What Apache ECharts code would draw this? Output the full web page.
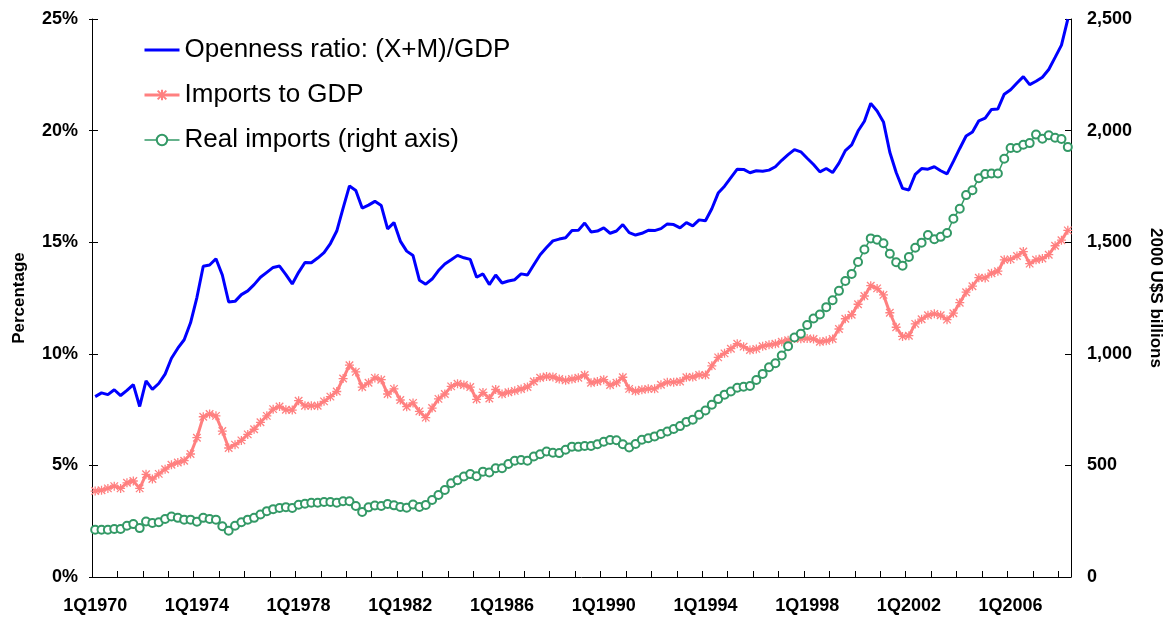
<!DOCTYPE html>
<html>
<head>
<meta charset="utf-8">
<script src="https://cdn.jsdelivr.net/npm/echarts@6/dist/echarts.min.js"></script>
<style>
  html, body { margin: 0; padding: 0; background: #fff; }
  #chart { width: 1172px; height: 622px; }
</style>
</head>
<body>
<div id="chart"></div>
<script>
// quarters 1Q1970 .. 2Q2008
var quarters = [];
for (var y = 1970; y <= 2008; y++) {
  for (var q = 1; q <= 4; q++) {
    if (quarters.length < 154) quarters.push(q + 'Q' + y);
  }
}

// (X+M)/GDP, percent
var opennessRatio = [
  8.08, 8.25, 8.17, 8.39, 8.13, 8.36, 8.62, 7.64, 8.79, 8.41, 8.67, 9.09, 9.80, 10.25, 10.63, 11.39,
  12.52, 13.92, 13.98, 14.26, 13.53, 12.32, 12.35, 12.65, 12.82, 13.10, 13.43, 13.65, 13.87, 13.93, 13.55, 13.13,
  13.65, 14.09, 14.08, 14.29, 14.53, 14.94, 15.50, 16.53, 17.52, 17.32, 16.53, 16.66, 16.83, 16.64, 15.60, 15.88,
  15.05, 14.60, 14.40, 13.30, 13.12, 13.35, 13.73, 14.02, 14.21, 14.41, 14.30, 14.23, 13.43, 13.58, 13.10, 13.53,
  13.17, 13.26, 13.32, 13.58, 13.53, 13.99, 14.44, 14.76, 15.06, 15.14, 15.20, 15.52, 15.53, 15.86, 15.46, 15.50,
  15.64, 15.40, 15.50, 15.79, 15.43, 15.32, 15.40, 15.53, 15.52, 15.61, 15.82, 15.79, 15.64, 15.88, 15.73, 16.00,
  15.96, 16.50, 17.20, 17.51, 17.89, 18.27, 18.26, 18.11, 18.20, 18.18, 18.23, 18.38, 18.67, 18.92, 19.15, 19.05,
  18.76, 18.48, 18.15, 18.30, 18.12, 18.54, 19.10, 19.36, 19.98, 20.42, 21.22, 20.88, 20.39, 19.03, 18.12, 17.41,
  17.34, 18.04, 18.30, 18.27, 18.38, 18.20, 18.06, 18.62, 19.20, 19.76, 19.94, 20.44, 20.56, 20.95, 20.97, 21.63,
  21.83, 22.13, 22.42, 22.06, 22.21, 22.39, 22.74, 23.28, 23.83, 24.99
];

// imports / GDP, percent
var importsToGdp = [
  3.85, 3.89, 3.97, 4.07, 3.97, 4.22, 4.30, 3.97, 4.60, 4.39, 4.62, 4.83, 5.03, 5.13, 5.21, 5.51,
  6.24, 7.18, 7.30, 7.22, 6.54, 5.78, 5.93, 6.12, 6.39, 6.62, 6.93, 7.22, 7.52, 7.64, 7.49, 7.48,
  7.90, 7.67, 7.67, 7.67, 7.87, 8.08, 8.31, 8.89, 9.49, 9.19, 8.51, 8.70, 8.92, 8.84, 8.20, 8.43,
  7.93, 7.63, 7.80, 7.42, 7.14, 7.57, 7.98, 8.20, 8.54, 8.66, 8.60, 8.51, 7.96, 8.27, 8.00, 8.40,
  8.20, 8.28, 8.34, 8.42, 8.51, 8.76, 8.93, 8.98, 8.96, 8.87, 8.81, 8.87, 8.93, 9.05, 8.70, 8.76,
  8.84, 8.60, 8.70, 8.95, 8.43, 8.33, 8.39, 8.43, 8.43, 8.61, 8.72, 8.73, 8.76, 8.95, 8.96, 9.05,
  9.05, 9.46, 9.84, 10.02, 10.23, 10.45, 10.32, 10.17, 10.22, 10.34, 10.40, 10.45, 10.54, 10.61, 10.69, 10.67,
  10.69, 10.66, 10.54, 10.58, 10.66, 11.11, 11.57, 11.75, 12.22, 12.59, 13.05, 12.93, 12.64, 11.84, 11.19, 10.78,
  10.81, 11.34, 11.55, 11.73, 11.79, 11.73, 11.53, 11.82, 12.29, 12.76, 13.03, 13.41, 13.40, 13.61, 13.70, 14.21,
  14.23, 14.38, 14.58, 14.04, 14.21, 14.27, 14.44, 14.84, 15.09, 15.53
];

// real imports, 2000 US$ billions (right axis)
var realImports = [
  212, 212, 212, 215, 215, 230, 237, 219, 249, 242, 245, 260, 271, 265, 257, 257,
  248, 265, 260, 257, 227, 207, 230, 245, 257, 265, 280, 295, 304, 309, 313, 309,
  324, 328, 333, 333, 336, 336, 333, 339, 339, 318, 291, 312, 320, 318, 327, 321,
  314, 310, 325, 314, 323, 345, 367, 390, 420, 434, 450, 461, 451, 472, 468, 487,
  487, 506, 521, 524, 521, 540, 550, 562, 557, 555, 570, 584, 583, 587, 587, 595,
  606, 614, 613, 595, 580, 596, 615, 622, 630, 641, 652, 663, 676, 695, 705, 727,
  746, 772, 797, 817, 831, 848, 852, 856, 883, 910, 940, 958, 992, 1034, 1073, 1090,
  1129, 1158, 1176, 1209, 1240, 1282, 1326, 1358, 1411, 1467, 1517, 1511, 1495, 1448, 1410, 1395,
  1434, 1475, 1498, 1532, 1513, 1524, 1541, 1605, 1650, 1711, 1733, 1787, 1805, 1808, 1808, 1874,
  1922, 1922, 1937, 1944, 1982, 1964, 1979, 1968, 1962, 1926
];

var seriesNames = ['Openness ratio: (X+M)/GDP', 'Imports to GDP', 'Real imports (right axis)'];

var font = "'Liberation Sans', Arial, sans-serif";
var asterisk = 'path://M0,0L10,10M10,0L0,10M5,-1L5,11M-1,5L11,5';

var chart = echarts.init(document.getElementById('chart'));
chart.setOption({
  animation: false,
  backgroundColor: '#fff',
  textStyle: { fontFamily: font },
  grid: { left: 92, right: 100, top: 19, bottom: 45 },
  legend: {
    orient: 'vertical',
    left: 143,
    top: 37,
    padding: 0,
    itemWidth: 35,
    itemHeight: 13,
    itemGap: 19,
    data: [
      { name: seriesNames[0], itemStyle: { opacity: 0 }, lineStyle: { width: 3 } },
      { name: seriesNames[1], lineStyle: { width: 3 } },
      { name: seriesNames[2], lineStyle: { width: 1.5 } }
    ],
    textStyle: { fontSize: 26, color: '#000', fontFamily: font, lineHeight: 26 }
  },
  xAxis: {
    type: 'category',
    data: quarters,
    boundaryGap: true,
    axisLine: { lineStyle: { color: '#000', width: 1 } },
    axisTick: { show: true, inside: true, length: 6, interval: 3, lineStyle: { color: '#000' } },
    axisLabel: { interval: 15, fontSize: 18, fontWeight: 'bold', color: '#000', margin: 20, fontFamily: font },
    splitLine: { show: false }
  },
  yAxis: [
    {
      type: 'value',
      min: 0, max: 25, interval: 5,
      position: 'left',
      name: 'Percentage',
      nameLocation: 'middle',
      nameGap: 64,
      nameTextStyle: { fontSize: 17, fontWeight: 'bold', color: '#000', fontFamily: font },
      axisLine: { show: true, lineStyle: { color: '#000', width: 1 } },
      axisTick: { show: true, inside: true, length: 6, lineStyle: { color: '#000' } },
      axisLabel: { formatter: '{value}%', fontSize: 18, fontWeight: 'bold', color: '#000', margin: 14, fontFamily: font },
      splitLine: { show: false }
    },
    {
      type: 'value',
      min: 0, max: 2500, interval: 500,
      position: 'right',
      name: '2000 U$S billions',
      nameLocation: 'middle',
      nameRotate: -90,
      nameGap: 76,
      nameTextStyle: { fontSize: 17, fontWeight: 'bold', color: '#000', fontFamily: font },
      axisLine: { show: true, lineStyle: { color: '#000', width: 1 } },
      axisTick: { show: true, inside: true, length: 6, lineStyle: { color: '#000' } },
      axisLabel: {
        formatter: function (v) { return v.toLocaleString('en-US'); },
        fontSize: 18, fontWeight: 'bold', color: '#000', margin: 16, fontFamily: font
      },
      splitLine: { show: false }
    },
    {
      // short outer ticks of the left axis
      type: 'value',
      min: 0, max: 25, interval: 5,
      position: 'left',
      axisLine: { show: false },
      axisTick: { show: true, inside: false, length: 3, lineStyle: { color: '#000' } },
      axisLabel: { show: false },
      splitLine: { show: false }
    }
  ],
  series: [
    {
      name: seriesNames[0],
      type: 'line',
      yAxisIndex: 0,
      data: opennessRatio,
      symbol: 'none',
      color: '#0000FF',
      lineStyle: { color: '#0000FF', width: 3 }
    },
    {
      name: seriesNames[1],
      type: 'line',
      yAxisIndex: 0,
      data: importsToGdp,
      symbol: asterisk,
      symbolSize: 9,
      showAllSymbol: true,
      color: '#FF8080',
      itemStyle: { color: '#FF8080', borderColor: '#FF8080', borderWidth: 1.3 },
      lineStyle: { color: '#FF8080', width: 3 }
    },
    {
      name: seriesNames[2],
      type: 'line',
      yAxisIndex: 1,
      data: realImports,
      symbol: 'emptyCircle',
      symbolSize: 8,
      showAllSymbol: true,
      color: '#339966',
      itemStyle: { color: '#339966', borderColor: '#339966', borderWidth: 1.5 },
      lineStyle: { color: '#339966', width: 1.5 }
    }
  ]
});
</script>
</body>
</html>
